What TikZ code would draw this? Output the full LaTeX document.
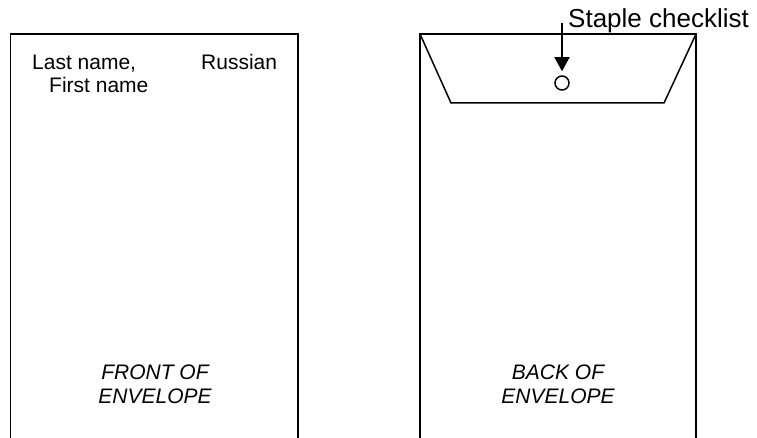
\documentclass[tikz,border=0pt]{standalone}
\usepackage{fontspec}
\setmainfont{Liberation Sans}
\usetikzlibrary{arrows.meta}
\newcommand{\drawthick}{\draw[line width=1.5pt]}
\newcommand{\envelopeside}[2]{\drawthick (#1,438)--(#1,34)--(#2,34)--(#2,438);}
\tikzset{
  label/.style={inner sep=0pt, anchor=base west, font=\fontsize{21}{24}\selectfont},
  side/.style={inner sep=0pt, align=center, anchor=base, font=\fontsize{21}{24}\selectfont\itshape}
}
\begin{document}
\begin{tikzpicture}[x=1pt,y=-1pt]
\useasboundingbox (0,0) rectangle (757,438);
% front of envelope
\envelopeside{10.5}{298}
\node[label] (lastname) at (32,70) {Last name,};
\node[label] (firstname) at (49,93) {First name};
\node[label] (russian) at (201,70) {Russian};
\node[side] (front) at (155,403) {FRONT OF\\ENVELOPE};
% back of envelope
\envelopeside{420}{696}
\drawthick (420,34)--(451,103)--(664,103)--(696,34);
\node[draw, circle, line width=1.5pt, minimum size=14pt, inner sep=0pt] (staple) at (562,83) {};
\coordinate (stemtop) at (562,23);
\node[label, font=\fontsize{26}{30}\selectfont] (checklist) at (568,28) {Staple checklist};
\draw[line width=1.5pt, -{Triangle[width=15pt,length=14pt]}, shorten >=4pt] (stemtop) -- (staple.north);
\node[side] (back) at (558,403) {BACK OF\\ENVELOPE};
\end{tikzpicture}
\end{document}
